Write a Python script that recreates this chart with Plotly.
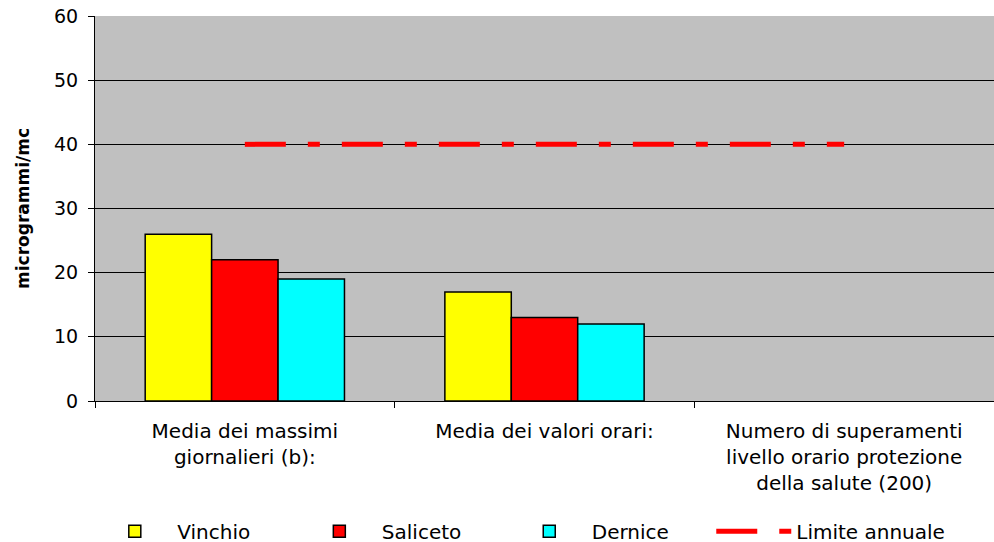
import plotly.graph_objects as go

categories = [
    "Media dei massimi<br>giornalieri (b):",
    "Media dei valori orari:",
    "Numero di superamenti<br>livello orario protezione<br>della salute (200)",
]
vinchio = [26, 17, None]
saliceto = [22, 13, None]
dernice = [19, 12, None]
limite = [40, 40, 40]

font = "DejaVu Sans, Arial, sans-serif"

bar_series = [("Vinchio", vinchio, "#FFFF00", "legend"),
              ("Saliceto", saliceto, "#FF0000", "legend2"),
              ("Dernice", dernice, "#00FFFF", "legend3")]

fig = go.Figure()
for name, vals, col, lg in bar_series:
    fig.add_trace(go.Bar(x=categories, y=vals, name=name, legend=lg,
                         marker=dict(color=col, line=dict(color="black", width=1.5))))

fig.add_trace(go.Scatter(x=categories, y=limite, name="Limite annuale", mode="lines",
                         legend="legend4",
                         line=dict(color="#FF0000", width=5, dash="41px,22px,12px,22px")))

def leg(x):
    return dict(orientation="h", x=x, xanchor="left", y=-0.338, yanchor="middle",
                font=dict(size=20), itemwidth=75, entrywidth=160,
                bgcolor="rgba(0,0,0,0)")

fig.update_layout(
    width=994, height=542,
    margin=dict(l=95, r=0, t=16, b=141, autoexpand=False),
    plot_bgcolor="#C0C0C0",
    paper_bgcolor="white",
    barmode="group",
    bargap=0.335,
    bargroupgap=0,
    font=dict(family=font, size=19, color="black"),
    showlegend=True,
    legend=leg(-0.003),
    legend2=leg(0.2245),
    legend3=leg(0.458),
    legend4=leg(0.6855),
)
fig.update_xaxes(showline=True, linecolor="black", linewidth=1, automargin=False,
                 ticks="outside", tickson="boundaries", ticklen=6, tickcolor="black",
                 showgrid=False, tickfont=dict(size=20), ticklabelstandoff=12)
fig.update_yaxes(range=[0, 60], dtick=10, showline=True, linecolor="black", linewidth=1,
                 automargin=False, ticklabeloverflow="allow",
                 ticks="outside", ticklen=6, tickcolor="black",
                 showgrid=True, gridcolor="black", gridwidth=1, zeroline=False,
                 tickfont=dict(size=19), ticklabelstandoff=6,
                 title=dict(text="<b>microgrammi/mc</b>", font=dict(size=17), standoff=20))

fig.write_html(
    "out.html",
    config={"displayModeBar": False},
    post_script="document.body.style.margin='0';document.body.style.overflow='hidden';",
)
